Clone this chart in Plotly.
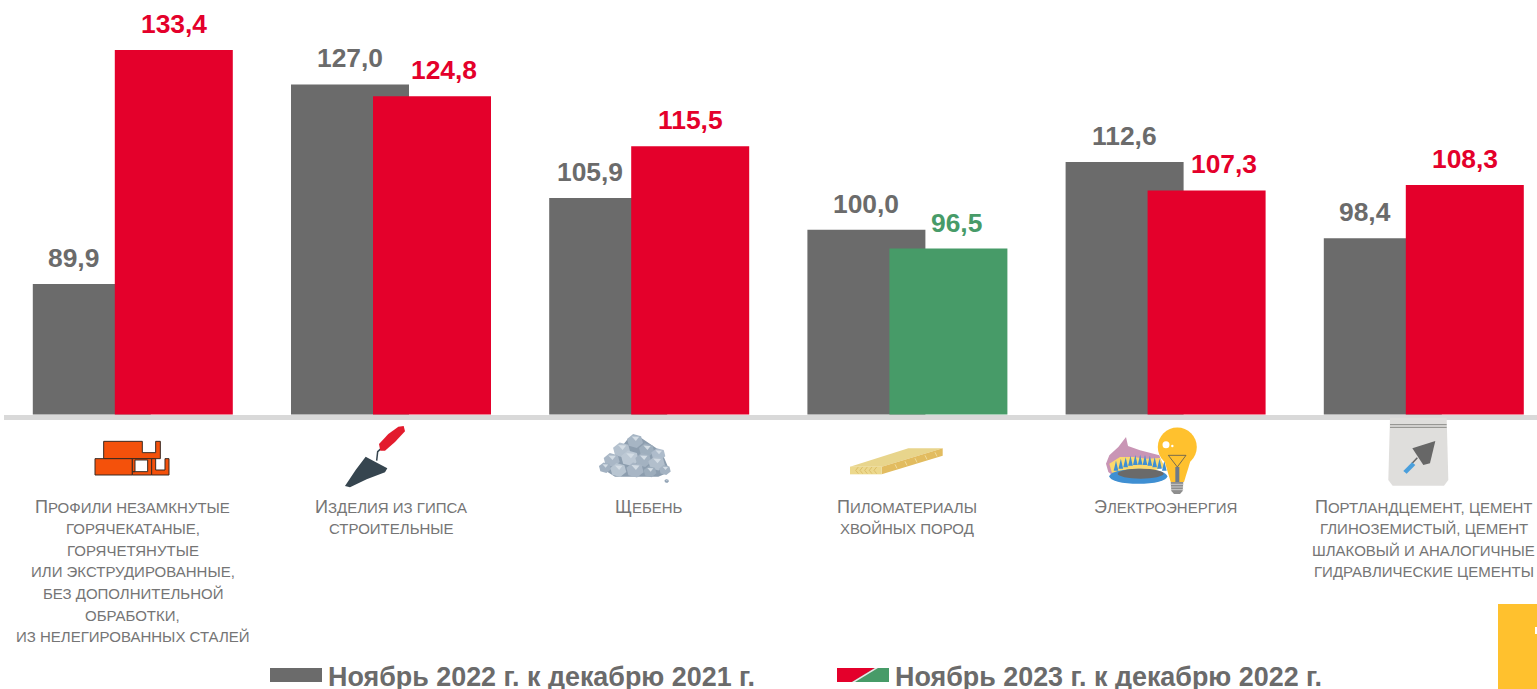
import math
import plotly.graph_objects as go

W, H = 1537, 689

labels = [
    ["Профили незамкнутые", "горячекатаные,", "горячетянутые", "или экструдированные,",
     "без дополнительной", "обработки,", "из нелегированных сталей"],
    ["Изделия из гипса", "строительные"],
    ["Щебень"],
    ["Пиломатериалы", "хвойных пород"],
    ["Электроэнергия"],
    ["Портландцемент, цемент", "глиноземистый, цемент", "шлаковый и аналогичные", "гидравлические цементы"],
]
values_2022 = [89.9, 127.0, 105.9, 100.0, 112.6, 98.4]
values_2023 = [133.4, 124.8, 115.5, 96.5, 107.3, 108.3]
series_names = ["Ноябрь 2022 г. к декабрю 2021 г.", "Ноябрь 2023 г. к декабрю 2022 г."]

GRAY = "#6b6b6b"
RED = "#e4002b"
GREEN = "#479b68"
TEXT_GRAY = "#6b6b6b"
FONT = "Liberation Sans"

# geometry measured on the picture, px
STEP = 258.2
CENTER0 = 132.8
BASE_Y = 414.5
PX_PER_UNIT = 5.38
BAR_W = 118 / STEP
GRAY_OFF = -100 / STEP
RED_OFF = -18 / STEP

fig = go.Figure()
x = list(range(len(labels)))
# below 100 means prices fell, those bars are green
colors_2023 = [GREEN if v < 100 else RED for v in values_2023]
fig.add_trace(go.Bar(x=x, y=values_2022, name=series_names[0], width=BAR_W, offset=GRAY_OFF,
                     marker=dict(color=GRAY, line_width=0)))
fig.add_trace(go.Bar(x=x, y=values_2023, name=series_names[1], width=BAR_W, offset=RED_OFF,
                     marker=dict(color=colors_2023, line_width=0)))

shapes = []
annotations = []


def px(v):
    return v / W


def py(v):
    return 1 - v / H


def poly(pts, fill, ox=0, oy=0, k=1.0, line=None, lw=0, close=True):
    d = ""
    for n, (a, b) in enumerate(pts):
        d += ("M" if n == 0 else "L") + f"{px(ox + a * k):.5f},{py(oy + b * k):.5f} "
    if close:
        d += "Z"
    shapes.append(dict(type="path", path=d, xref="paper", yref="paper", fillcolor=fill if close else "rgba(0,0,0,0)",
                       line=dict(color=line or "rgba(0,0,0,0)", width=lw), layer="above"))


def ellipse(cx, cy, rx, ry, fill):
    shapes.append(dict(type="circle", xref="paper", yref="paper", x0=px(cx - rx), x1=px(cx + rx),
                       y0=py(cy + ry), y1=py(cy - ry), fillcolor=fill, line_width=0, layer="above"))


def text(x0, y0, s, size, color, bold=False, anchor="center", box_h=None):
    a = dict(xref="paper", yref="paper", x=px(x0), y=py(y0), text=f"<b>{s}</b>" if bold else s,
             showarrow=False, xanchor=anchor, yanchor="middle",
             font=dict(family=FONT, size=size, color=color))
    if box_h:
        a["height"] = box_h
    annotations.append(a)


def small_caps(line):
    out = ""
    for ch in line:
        if ch.isupper():
            out += f'<span style="font-size:18px">{ch}</span>'
        else:
            out += ch.upper()
    return out


# value labels, a few are nudged sideways in the original
gray_dx = [-18, 0, -18, 0, 0, -18]
red_dx = [0, 12, 0, 8, 17, 0]
for i in x:
    annotations.append(dict(x=i + (GRAY_OFF * STEP + 59 + gray_dx[i]) / STEP, y=values_2022[i], yshift=26,
                            text=f"<b>{values_2022[i]:.1f}</b>".replace(".", ","), showarrow=False,
                            yanchor="middle", font=dict(family=FONT, size=26.4, color=TEXT_GRAY)))
    annotations.append(dict(x=i + (RED_OFF * STEP + 59 + red_dx[i]) / STEP, y=values_2023[i], yshift=26,
                            text=f"<b>{values_2023[i]:.1f}</b>".replace(".", ","), showarrow=False,
                            yanchor="middle", font=dict(family=FONT, size=26.4, color=colors_2023[i])))

# category captions, one annotation per line because the spacing is tighter than plotly's
for i, lines in enumerate(labels):
    for n, line in enumerate(lines):
        text(CENTER0 + i * STEP, 507 + n * 21.6, small_caps(line), 15, "#757575")

# legend drawn by hand, the second swatch is split red/green
poly([(270, 668), (322, 668), (322, 682), (270, 682)], GRAY)
text(326, 676, series_names[0], 26.9, TEXT_GRAY, bold=True, anchor="left", box_h=25)
poly([(837, 668), (889, 668), (889, 682), (837, 682)], GREEN)
poly([(837, 668), (875, 668), (852, 682), (837, 682)], RED)
poly([(875, 668), (878, 668), (855, 682), (852, 682)], "#e8e8e8")
text(893, 676, series_names[1], 26.9, TEXT_GRAY, bold=True, anchor="left", box_h=25)

# yellow corner block
poly([(1498, 604), (1537, 604), (1537, 689), (1498, 689)], "#ffc12e")
poly([(1535, 627), (1537, 627), (1537, 634), (1535, 634)], "#ffffff")

# --- icons, traced from 3x crops ---
# bricks
o = dict(ox=85, oy=420, k=1 / 3)
BR = "#f4510b"
DK = "#3a2a22"
poly([(56, 64), (172, 64), (172, 98), (212, 98), (212, 64), (226, 64), (226, 116), (56, 116)], BR, line=DK, lw=1, **o)
poly([(30, 116), (142, 116), (142, 165), (30, 165)], BR, line=DK, lw=1, **o)
poly([(142, 116), (200, 116), (200, 165), (142, 165), (142, 155), (188, 155), (188, 120), (150, 120), (150, 155), (142, 155)],
     BR, line=DK, lw=1, **o)
poly([(200, 116), (212, 116), (212, 150), (240, 150), (240, 116), (252, 116), (252, 165), (200, 165)], BR, line=DK, lw=1, **o)

# trowel
o = dict(ox=335, oy=420, k=1 / 3)
poly([(30, 198), (62, 150), (92, 110), (120, 125), (157, 145), (150, 157), (95, 178), (45, 202)], "#36454f", **o)
poly([(125, 122), (128, 95), (142, 82)], "", line="#36454f", lw=1.5, close=False, **o)
poly([(132, 72), (160, 42), (190, 20), (206, 18), (210, 34), (180, 66), (150, 92), (136, 92)], "#e31b2d", **o)

# crushed stone
o = dict(ox=595, oy=425, k=1 / 3)
poly([(20, 130), (60, 90), (100, 40), (140, 40), (200, 80), (225, 140), (190, 155), (60, 155)], "#8c9dae", **o)
stones = [(120, 48, 25, "#a6b5c4"), (80, 75, 27, "#b4c1ce"), (155, 75, 24, "#9eaebd"), (190, 88, 22, "#aebccb"),
          (50, 105, 25, "#a9b7c6"), (105, 100, 28, "#bcc8d4"), (145, 105, 25, "#a3b2c1"), (185, 115, 26, "#b2bfcc"),
          (30, 128, 19, "#a2b1c1"), (70, 135, 25, "#b8c5d1"), (120, 135, 27, "#a8b6c5"), (165, 140, 20, "#9dadbc"),
          (210, 135, 18, "#a4b3c2"), (215, 168, 7, "#94a5b6")]
for cx, cy, r, c in stones:
    hexa = [(cx + r * math.cos(t * math.pi / 3 + 0.3), cy + r * 0.85 * math.sin(t * math.pi / 3 + 0.3)) for t in range(6)]
    poly(hexa, c, **o)
    poly([(cx - r * 0.4, cy - r * 0.55), (cx + r * 0.5, cy - r * 0.5), (cx + r * 0.1, cy)], "#d3dce4", **o)

# plank
o = dict(ox=840, oy=435, k=1 / 3)
poly([(30, 95), (205, 40), (308, 40), (125, 95)], "#e8d58c", **o)
poly([(125, 95), (308, 40), (308, 62), (125, 118)], "#e2bc60", **o)
poly([(30, 95), (125, 95), (125, 118), (30, 118)], "#ecd88c", **o)
for gx in [55, 68, 82, 96, 110]:
    poly([(gx, 116), (gx - 8, 106), (gx, 96)], "", line="#d4b25a", lw=0.7, close=False, **o)
for gx in [165, 195, 225, 255, 285]:
    poly([(gx, 100 - (gx - 125) * 0.3), (gx + 6, 112 - (gx - 125) * 0.3)], "", line="#f2e2a8", lw=0.8, close=False, **o)

# gas burner and lamp
o = dict(ox=1100, oy=422, k=1 / 3)
poly([(18, 125), (28, 100), (55, 75), (78, 45), (84, 72), (120, 85), (178, 100), (185, 120), (60, 178), (25, 150)], "#c995b5", **o)
poly([(28, 125), (60, 105), (100, 105), (140, 110), (180, 108), (195, 135), (60, 178), (35, 150)], "#fbd96c", **o)
for n in range(11):
    fx = 48 + n * 14.5
    fy = 132 - 18 * math.sin(math.pi * n / 10)
    poly([(fx - 7, fy + 14), (fx, fy - 16), (fx + 7, fy + 14)], "#3f8fd2", **o)
ellipse(1100 + 115 / 3, 422 + 163 / 3, 29, 7.5, "#3f8fd2")
ellipse(1100 + 122 / 3, 422 + 155 / 3, 23, 5, "#6a6a6a")

ellipse(1177.3, 447, 19.5, 19.5, "#ffc12e")
poly([(190, 105), (275, 105), (252, 180), (212, 180)], "#ffc12e", **o)
poly([(205, 100), (232, 135), (258, 100)], "", line="#555555", lw=0.8, close=False, **o)
poly([(205, 100), (258, 100)], "", line="#555555", lw=0.8, close=False, **o)
poly([(226, 135), (238, 135), (238, 180), (226, 180)], "#6d7a8a", **o)
poly([(212, 180), (250, 180), (248, 207), (240, 216), (222, 216), (214, 207)], "#8e8e8e", **o)
for sy in [187, 195, 203]:
    poly([(212, sy), (250, sy)], "", line="#d8d8d8", lw=0.8, close=False, **o)
ellipse(1100 + 198 / 3, 422 + 68 / 3, 3.5, 3.5, "#ffffff")
ellipse(1100 + 217 / 3, 422 + 72 / 3, 1.2, 1.2, "#ffffff")

# cement bag
o = dict(ox=1380, oy=415, k=1 / 3)
poly([(30, 8), (200, 8), (205, 195), (192, 212), (38, 212), (25, 195)], "#dfdedc", **o)
poly([(30, 29), (200, 29)], "", line="#8a8a86", lw=1, close=False, **o)
poly([(30, 37), (200, 37)], "", line="#8a8a86", lw=1, close=False, **o)
poly([(166, 78), (97, 100), (130, 150), (150, 145)], "#676767", **o)
poly([(112, 128), (95, 146)], "", line="#676767", lw=1.5, close=False, **o)
poly([(96, 142), (106, 150), (80, 176), (70, 168)], "#4a9fdc", **o)

fig.update_layout(
    width=W,
    height=H,
    margin=dict(l=0, r=0, t=0, b=0),
    paper_bgcolor="white",
    plot_bgcolor="white",
    barmode="overlay",
    showlegend=False,
    shapes=shapes,
    annotations=annotations,
    xaxis=dict(domain=[4 / W, 1], range=[(4 - CENTER0) / STEP, (W - CENTER0) / STEP], showgrid=False, zeroline=False,
               showticklabels=False, ticks="", showline=True, linecolor="#d9d9d9", linewidth=5),
    yaxis=dict(domain=[1 - BASE_Y / H, 1], range=[133.4 - (BASE_Y - 50) / PX_PER_UNIT, 133.4 + 50 / PX_PER_UNIT],
               showgrid=False, zeroline=False, showticklabels=False, ticks="", showline=False),
)

fig.write_html("out.html", config={"displayModeBar": False}, post_script="document.body.style.margin='0';")
